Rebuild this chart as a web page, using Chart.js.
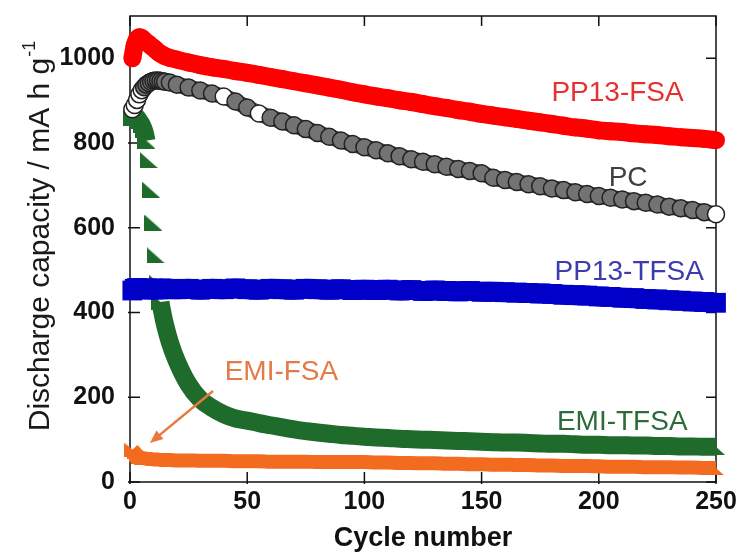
<!DOCTYPE html>
<html>
<head>
<meta charset="utf-8">
<script src="https://cdn.jsdelivr.net/npm/chart.js@4.4.1/dist/chart.umd.min.js"></script>
<style>
  html, body { margin: 0; padding: 0; background: #fff; }
</style>
</head>
<body>
<canvas id="capChart" width="746" height="555"></canvas>
<script>
const cycles = [1,2,3,4,5,6,7,8,9,10,11,12,13,14,15,17,20,25,30,35,40,45,50,55,60,65,70,75,80,85,90,95,100,
  105,110,115,120,125,130,135,140,145,150,155,160,165,170,175,180,185,190,195,200,
  205,210,215,220,225,230,235,240,245,250];

const ppFsa = [1000,1030,1045,1050,1048,1043,1038,1034,1029,1025,1020,1015,1011,1008,1005,1001,
  997,990,984,979,975,970,966,961,956,951,946,941,936,931,926,920,915,
  910,906,901,897,892,887,883,878,874,869,865,861,857,853,849,845,841,837,834,830,
  828,826,823,821,819,816,814,812,810,807];

const pc = [880,890,902,915,925,932,938,942,945,947,948,948,947,946,945,943,
  938,931,924,917,910,898,884,870,860,851,842,833,824,815,806,798,790,
  783,776,769,762,756,750,744,739,734,729,718,713,708,703,698,693,689,684,680,675,
  671,667,663,659,655,650,646,642,637,632];

const ppTfsa = [452,456,458,457,455,456,457,455,456,454,456,455,457,456,455,456,
  455,456,454,456,455,457,455,454,456,455,454,456,455,454,455,453,454,
  453,454,452,453,451,452,451,450,451,449,449,448,447,446,445,444,442,441,440,438,
  437,435,434,432,431,429,428,426,425,423];

const emiTfsa = [860,866,860,852,843,830,806,760,690,612,535,470,425,395,370,330,
  285,230,195,175,160,150,145,139,134,129,124,120,117,114,111,109,107,
  105,104,102,101,100,99,98,97,96,95,94,93,93,92,91,90,90,89,88,88,
  87,87,86,86,85,85,84,84,83,83];

const emiFsa = [76,70,64,60,57,56,55,54,54,53,53,53,52,52,52,52,
  51,51,50,50,50,49,49,49,48,48,48,48,47,47,47,47,47,
  46,46,45,45,44,44,43,43,42,42,41,41,40,40,39,39,38,38,38,37,
  36,36,36,35,35,35,34,34,33,33];

const xTicks = [0, 50, 100, 150, 200, 250];
const yTicks = [0, 200, 400, 600, 800, 1000];
const pcWhite = [1, 2, 3, 4, 5, 40, 55, 250];

const FONT = "'Liberation Sans', Arial, Helvetica, sans-serif";
Chart.defaults.font.family = FONT;
Chart.defaults.color = '#111';

const pts = arr => cycles.map((c, i) => ({ x: c, y: arr[i] }));
const lastCycle = cycles[cycles.length - 1];

function rightTriangle(color, w, h) {
  const c = document.createElement('canvas');
  c.width = w; c.height = h;
  const g = c.getContext('2d');
  g.fillStyle = color;
  g.beginPath();
  g.moveTo(0, 0); g.lineTo(w, h); g.lineTo(0, h);
  g.closePath();
  g.fill();
  return c;
}

// markers only where they stand apart from the band
const markerUpTo = (limit, r) => c => {
  const cy = cycles[c.dataIndex];
  return cy <= limit || cy === lastCycle ? r : 0;
};

const GREEN = '#1e6b2b';
const ORANGE = '#f26b1f';

// pin the plot box where the original has it
const AREA = { left: 130, top: 16, right: 716, bottom: 482 };
const fixLayout = {
  id: 'fixLayout',
  afterLayout(chart) {
    const a = chart.chartArea;
    Object.assign(a, AREA, { width: AREA.right - AREA.left, height: AREA.bottom - AREA.top });
    const { x, y } = chart.scales;
    Object.assign(y, { left: 0, right: AREA.left, width: AREA.left, top: AREA.top, bottom: AREA.bottom, height: AREA.bottom - AREA.top });
    Object.assign(x, { left: AREA.left, right: AREA.right, width: AREA.right - AREA.left, top: AREA.bottom, bottom: chart.height, height: chart.height - AREA.bottom });
    x.configure();
    y.configure();
  }
};

// frame with inward ticks, drawn under the data
const framePlugin = {
  id: 'frame',
  beforeDatasetsDraw(chart) {
    const { ctx, chartArea: a, scales: { x, y } } = chart;
    ctx.save();
    ctx.strokeStyle = '#111';
    ctx.lineWidth = 1.5;
    ctx.strokeRect(a.left, a.top, a.right - a.left, a.bottom - a.top);
    ctx.beginPath();
    x.ticks.forEach(t => {
      const px = x.getPixelForValue(t.value);
      ctx.moveTo(px, a.bottom + 2); ctx.lineTo(px, a.bottom - 10);
      ctx.moveTo(px, a.top); ctx.lineTo(px, a.top + 10);
    });
    y.ticks.forEach(t => {
      const py = y.getPixelForValue(t.value);
      ctx.moveTo(a.left - 2, py); ctx.lineTo(a.left + 10, py);
      ctx.moveTo(a.right, py); ctx.lineTo(a.right - 10, py);
    });
    ctx.stroke();
    ctx.restore();
  }
};

// series names, arrow, y-axis title
const notesPlugin = {
  id: 'notes',
  afterDraw(chart, args, opts) {
    const { ctx, scales: { x, y } } = chart;
    ctx.save();
    ctx.font = '28px ' + FONT;
    ctx.textAlign = 'center';
    ctx.textBaseline = 'middle';
    opts.labels.forEach(l => {
      ctx.fillStyle = l.color;
      ctx.fillText(l.text, x.getPixelForValue(l.x), y.getPixelForValue(l.y));
    });

    const ar = opts.arrow;
    const x0 = x.getPixelForValue(ar.from[0]), y0 = y.getPixelForValue(ar.from[1]);
    const x1 = x.getPixelForValue(ar.to[0]), y1 = y.getPixelForValue(ar.to[1]);
    const ang = Math.atan2(y1 - y0, x1 - x0);
    ctx.strokeStyle = ar.color;
    ctx.fillStyle = ar.color;
    ctx.lineWidth = 2.5;
    ctx.beginPath();
    ctx.moveTo(x0, y0);
    ctx.lineTo(x1 - 10 * Math.cos(ang), y1 - 10 * Math.sin(ang));
    ctx.stroke();
    ctx.beginPath();
    ctx.moveTo(x1, y1);
    ctx.lineTo(x1 - 13 * Math.cos(ang) + 5.5 * Math.sin(ang), y1 - 13 * Math.sin(ang) - 5.5 * Math.cos(ang));
    ctx.lineTo(x1 - 13 * Math.cos(ang) - 5.5 * Math.sin(ang), y1 - 13 * Math.sin(ang) + 5.5 * Math.cos(ang));
    ctx.closePath();
    ctx.fill();

    // y title with superscript
    const main = 'Discharge capacity / mA h g';
    const sup = '-1';
    ctx.font = '30px ' + FONT;
    const w = ctx.measureText(main).width;
    ctx.font = '18px ' + FONT;
    const ws = ctx.measureText(sup).width;
    ctx.translate(41, 236);
    ctx.rotate(-Math.PI / 2);
    ctx.textAlign = 'left';
    ctx.fillStyle = '#1a1a1a';
    const start = -(w + ws + 1) / 2;
    ctx.font = '30px ' + FONT;
    ctx.fillText(main, start, 0);
    ctx.font = '18px ' + FONT;
    ctx.fillText(sup, start + w + 1, -11);
    ctx.restore();
  }
};

// no band during the steep early fall of EMI-TFSA, only the markers
const steepGap = c => {
  const drop = (c.p0.parsed.y - c.p1.parsed.y) / (c.p1.parsed.x - c.p0.parsed.x);
  return drop > 32 ? 'rgba(0,0,0,0)' : undefined;
};

const ctx = document.getElementById('capChart').getContext('2d');

const capChart = new Chart(ctx, {
  type: 'line',
  data: {
    datasets: [
      {
        label: 'PP13-TFSA',
        data: pts(ppTfsa),
        borderColor: '#0000c8',
        borderWidth: 20,
        pointStyle: 'rect',
        pointRadius: 14,
        pointBackgroundColor: '#0000c8',
        pointBorderWidth: 0,
        cubicInterpolationMode: 'monotone',
        clip: false
      },
      {
        label: 'PP13-FSA',
        data: pts(ppFsa),
        borderColor: '#ff0000',
        borderWidth: 18,
        pointRadius: 9,
        pointBackgroundColor: '#ff0000',
        pointBorderWidth: 0,
        cubicInterpolationMode: 'monotone',
        clip: false
      },
      {
        label: 'PC',
        data: pts(pc),
        borderColor: '#444444',
        borderWidth: 16,
        pointRadius: 8.5,
        pointBackgroundColor: c => pcWhite.includes(cycles[c.dataIndex]) ? '#ffffff' : '#737373',
        pointBorderColor: '#222222',
        pointBorderWidth: 1.5,
        cubicInterpolationMode: 'monotone',
        clip: false
      },
      {
        label: 'EMI-FSA',
        data: pts(emiFsa),
        borderColor: ORANGE,
        borderWidth: 14,
        pointStyle: rightTriangle(ORANGE, 16, 14),
        pointRadius: markerUpTo(5, 7),
        cubicInterpolationMode: 'monotone',
        clip: false
      },
      {
        label: 'EMI-TFSA',
        data: pts(emiTfsa),
        borderColor: GREEN,
        borderWidth: 18,
        segment: { borderColor: steepGap },
        pointStyle: rightTriangle(GREEN, 18, 16),
        pointRadius: markerUpTo(13, 8),
        cubicInterpolationMode: 'monotone',
        clip: false
      }
    ]
  },
  options: {
    responsive: false,
    animation: false,
    layout: { padding: { top: 16, right: 30, left: 0, bottom: 0 } },
    scales: {
      x: {
        type: 'linear',
        min: 0,
        max: 250,
        afterBuildTicks: s => { s.ticks = xTicks.map(v => ({ value: v })); },
        afterFit: s => { s.height = 73; s.paddingLeft = 0; s.paddingRight = 0; },
        grid: { display: false, drawTicks: false },
        border: { display: false },
        ticks: { font: { size: 25, weight: 'bold' }, padding: 5, maxRotation: 0, color: '#111', callback: v => String(v) },
        title: {
          display: true,
          text: 'Cycle number',
          font: { size: 27, weight: 'bold' },
          padding: { top: 0, bottom: 0 },
          color: '#111'
        }
      },
      y: {
        min: 0,
        max: 1100,
        afterBuildTicks: s => { s.ticks = yTicks.map(v => ({ value: v })); },
        afterFit: s => { s.width = 130; s.paddingTop = 0; s.paddingBottom = 0; },
        grid: { display: false, drawTicks: false },
        border: { display: false },
        ticks: { font: { size: 25, weight: 'bold' }, padding: 15, color: '#111', callback: v => String(v) }
      }
    },
    plugins: {
      legend: { display: false },
      tooltip: { enabled: false },
      notes: {
        labels: [
          { text: 'PP13-FSA', x: 208, y: 917, color: '#e8302f' },
          { text: 'PC', x: 212.5, y: 718, color: '#404040' },
          { text: 'PP13-TFSA', x: 213, y: 496, color: '#3c3cae' },
          { text: 'EMI-TFSA', x: 210, y: 140, color: '#2e6b3a' },
          { text: 'EMI-FSA', x: 64.6, y: 258, color: '#e47a45' }
        ],
        arrow: { from: [35.4, 215], to: [8.5, 92], color: '#e8793f' }
      }
    }
  },
  plugins: [fixLayout, framePlugin, notesPlugin]
});
</script>
</body>
</html>
